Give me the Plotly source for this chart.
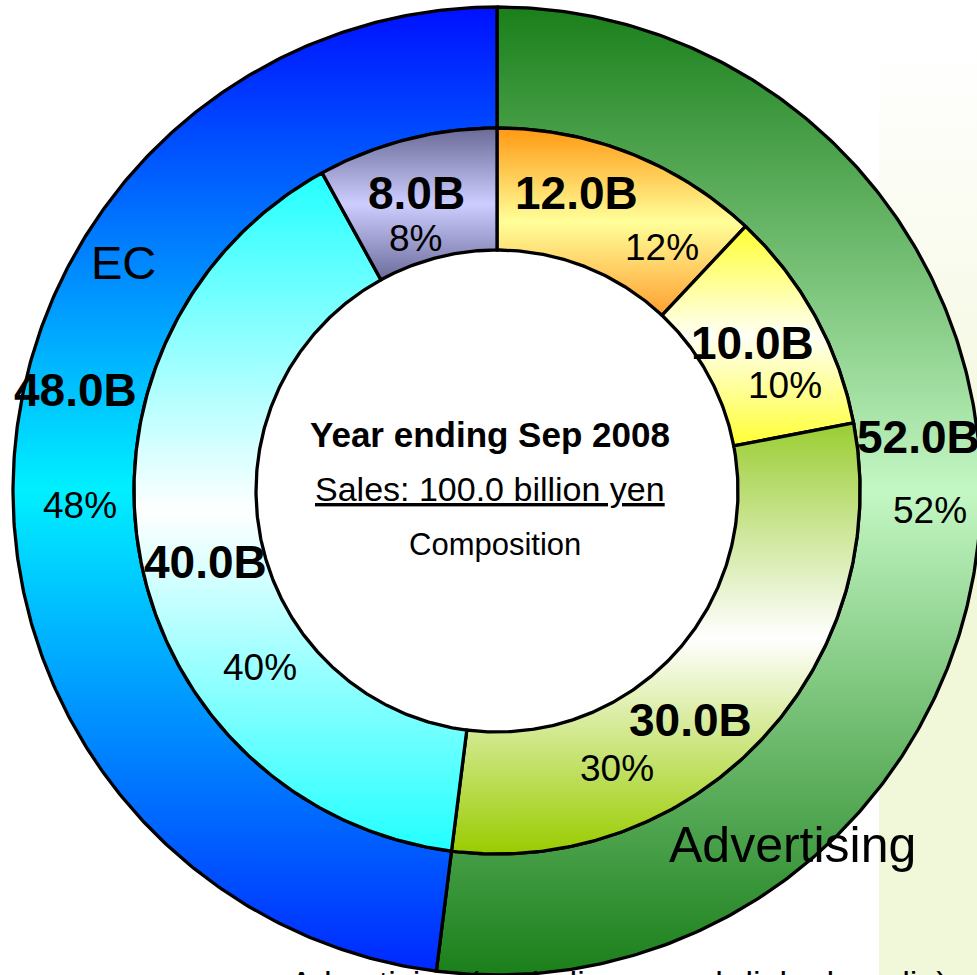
import math
import plotly.graph_objects as go

# Sales composition, billions of yen (year ending Sep 2008)
outer_labels = ["Advertising", "EC"]
outer_values = [52.0, 48.0]
inner_values = [12.0, 10.0, 30.0, 40.0, 8.0]

center_lines = ["Year ending Sep 2008", "Sales: 100.0 billion yen", "Composition"]
footer_text = "Advertising (excluding search-linked media)"

# ---- styling -------------------------------------------------------------
# vertical gradients per slice: (bottom, middle, top)
outer_grad = [
    ("#1a7f1a", "#c4f7c4", "#1a7f1a"),
    ("#0028ff", "#00f0ff", "#0010ff"),
]
inner_grad = [
    ("#ffa030", "#ffff99", "#ff9912"),
    ("#ffff33", "#fffff4", "#ffff30"),
    ("#99cc00", "#ffffff", "#9acd32"),
    ("#22ffff", "#ffffff", "#22ffff"),
    ("#6b6b9c", "#cdcdff", "#6a6a98"),
]

W, H = 977, 975
CX, CY = 497, 491             # ring centre, pixels from top-left
R_OUT, R_MID, R_HOLE = 484, 363, 241
FONT = "Liberation Sans, Arial, sans-serif"
LINE_W = 3.3

# label anchors (pixels from the top-left corner of the page)
outer_name_pos = [(792, 845, 50), (123, 262, 47)]
outer_value_pos = [(855, 437, "left"), (75, 390, "center")]
outer_pct_pos = [(930, 510), (80, 505)]
inner_value_pos = [(576, 193), (752, 343), (690, 720), (205, 562), (416, 193)]
inner_pct_pos = [(662, 247), (785, 385), (617, 768), (260, 667), (415, 238)]
VALUE_SIZE, PCT_SIZE = 46, 37


def px(x, y):
    """Convert page pixels to the centred data space (y up)."""
    return x - CX, CY - y


def sector(a0, a1, r_in, r_out):
    steps = max(8, int(abs(a1 - a0) * 2))
    xs, ys = [], []
    for i in range(steps + 1):
        a = math.radians(a0 + (a1 - a0) * i / steps)
        xs.append(r_out * math.sin(a))
        ys.append(r_out * math.cos(a))
    for i in range(steps + 1):
        a = math.radians(a1 - (a1 - a0) * i / steps)
        xs.append(r_in * math.sin(a))
        ys.append(r_in * math.cos(a))
    xs.append(xs[0])
    ys.append(ys[0])
    return xs, ys


def ring_traces(values, grads, r_in, r_out, names=None):
    total = sum(values)
    start = 0.0
    traces = []
    for i, v in enumerate(values):
        span = v / total * 360.0
        xs, ys = sector(start, start + span, r_in, r_out)
        bot, mid, top = grads[i]
        traces.append(go.Scatter(
            x=xs, y=ys, mode="lines", fill="toself",
            fillgradient=dict(type="vertical",
                              colorscale=[[0, bot], [0.5, mid], [1, top]]),
            line=dict(color="black", width=LINE_W),
            name=names[i] if names else f"{v:.1f}B",
            hoverinfo="skip", showlegend=False,
        ))
        start += span
    return traces


fig = go.Figure()

# pale backdrop panel on the right edge
bx0, by0 = px(879, 48)
bx1, by1 = px(W, H)
fig.add_trace(go.Scatter(
    x=[bx0, bx1, bx1, bx0, bx0], y=[by0, by0, by1, by1, by0],
    mode="lines", fill="toself", line=dict(width=0),
    fillgradient=dict(type="vertical",
                      colorscale=[[0, "#f1f7d9"], [0.5, "#f1f7d9"], [1, "#ffffff"]]),
    hoverinfo="skip", showlegend=False,
))

for t in ring_traces(outer_values, outer_grad, R_MID, R_OUT, outer_labels):
    fig.add_trace(t)
for t in ring_traces(inner_values, inner_grad, R_HOLE, R_MID):
    fig.add_trace(t)

annotations = []


def label(x, y, text, size, anchor="center"):
    ax, ay = px(x, y)
    annotations.append(dict(
        x=ax, y=ay, xref="x", yref="y", text=text, showarrow=False,
        xanchor=anchor, yanchor="middle",
        font=dict(family=FONT, size=size, color="black"),
    ))


total_outer = sum(outer_values)
for i, (name, v) in enumerate(zip(outer_labels, outer_values)):
    nx, ny, ns = outer_name_pos[i]
    label(nx, ny, name, ns)
    vx, vy, anc = outer_value_pos[i]
    label(vx, vy, f"<b>{v:.1f}B</b>", VALUE_SIZE, anc)
    label(*outer_pct_pos[i], f"{v / total_outer * 100:.0f}%", PCT_SIZE)

total_inner = sum(inner_values)
for i, v in enumerate(inner_values):
    label(*inner_value_pos[i], f"<b>{v:.1f}B</b>", VALUE_SIZE)
    label(*inner_pct_pos[i], f"{v / total_inner * 100:.0f}%", PCT_SIZE)

label(490, 434, f"<b>{center_lines[0]}</b>", 35)
label(490, 489, f"<u>{center_lines[1]}</u>", 34)
label(495, 544, center_lines[2], 31)

# footer line running off the bottom edge of the page
annotations.append(dict(
    x=619 / W, y=(H - 962) / H, xref="paper", yref="paper",
    text=footer_text, showarrow=False, xanchor="center", yanchor="top",
    font=dict(family=FONT, size=34, color="black"),
))

fig.update_layout(
    width=W, height=H,
    margin=dict(l=0, r=0, t=0, b=0),
    paper_bgcolor="white", plot_bgcolor="white",
    xaxis=dict(range=[-CX, W - CX], visible=False, fixedrange=True),
    yaxis=dict(range=[CY - H, CY], visible=False, fixedrange=True),
    annotations=annotations,
    showlegend=False,
)

fig.write_html("out.html")
